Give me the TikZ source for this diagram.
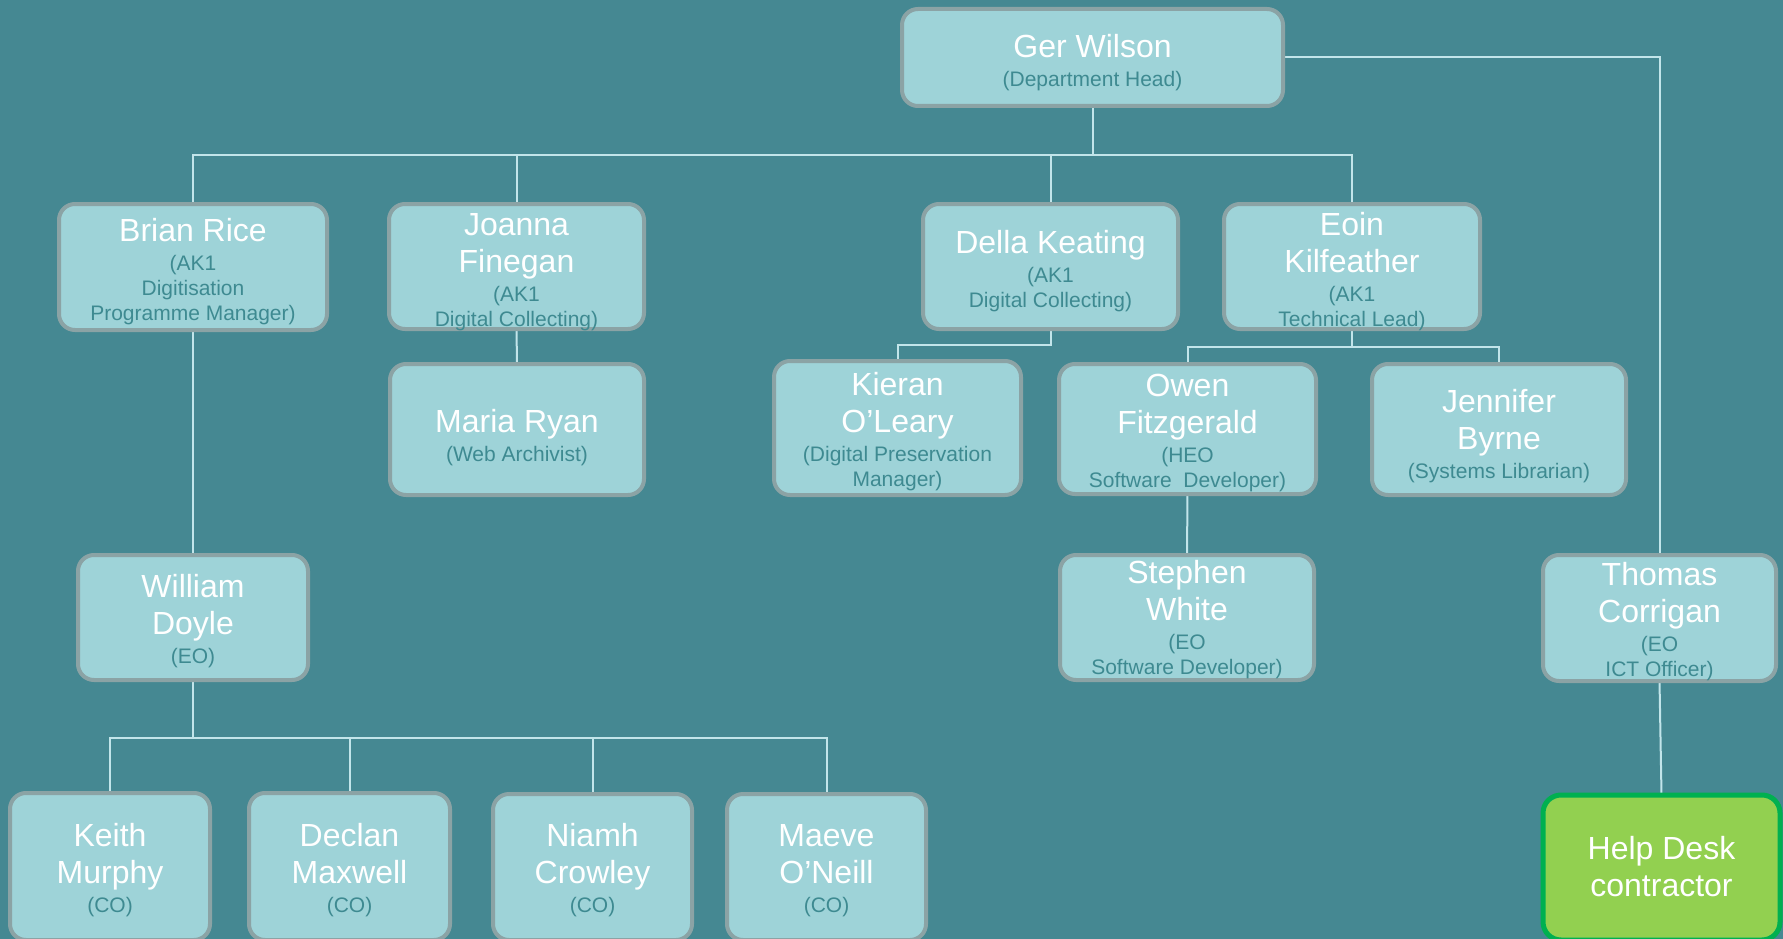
\documentclass[tikz,border=0pt]{standalone}
\usepackage{fontspec}
\setmainfont{Liberation Sans}
\definecolor{bgc}{HTML}{458892}
\definecolor{boxc}{HTML}{9ED3D8}
\definecolor{edgec}{HTML}{8BA3A5}
\definecolor{subc}{HTML}{3E8A91}
\definecolor{linec}{HTML}{C2E5EA}
\definecolor{greenf}{HTML}{92D050}
\definecolor{greene}{HTML}{00B050}
\pgfdeclarelayer{bglayer}
\pgfdeclarelayer{lines}
\pgfsetlayers{bglayer,lines,main}
\newcommand\nm[1]{{\fontsize{32}{37}\selectfont\color{white}\rule[-12pt]{0pt}{37pt}#1}}
\newcommand\sbt[1]{{\fontsize{21}{25}\selectfont\color{subc}\rule[-8pt]{0pt}{25pt}#1}}
% #1 style, #2 name, #3 x1, #4 y1, #5 x2, #6 y2, #7 text shift down, #8 text
\newcommand\mkbox[8][box]{%
  \pgfmathsetmacro\bw{#5-#3-4}\pgfmathsetmacro\bh{#6-#4-4}%
  \pgfmathsetmacro\bx{(#3+#5)/2}\pgfmathsetmacro\by{(#4+#6)/2}%
  \node[#1, minimum width=\bw pt, minimum height=\bh pt] (#2) at (\bx,\by) {};
  \node[txt] (#2t) at ([yshift=-#7pt]#2.center) {#8};}
\tikzset{
  box/.style={draw=edgec, line width=4pt, fill=boxc, rounded corners=16pt, inner sep=0pt, outer sep=0pt},
  greenbox/.style={draw=greene, line width=5pt, fill=greenf, rounded corners=18pt, inner sep=0pt, outer sep=0pt},
  txt/.style={align=center, inner sep=0pt, font=\offinterlineskip},
  conn/.style={draw=linec, line width=2pt}
}
\begin{document}
\begin{tikzpicture}[x=1pt, y=-1pt]
\useasboundingbox (0,0) rectangle (1783,939);
\begin{pgfonlayer}{bglayer}
\fill[bgc] (0,0) rectangle (1783,939);
\end{pgfonlayer}
% boxes
\mkbox{ger}{900}{7}{1285}{108}{6}{\nm{Ger Wilson}\\\sbt{(Department Head)}}
\mkbox{brian}{57}{202}{329}{332}{5}{\nm{Brian Rice}\\\sbt{(AK1}\\\sbt{Digitisation}\\\sbt{Programme Manager)}}
\mkbox{joanna}{387}{202}{646}{331}{6}{\nm{Joanna}\\\nm{Finegan}\\\sbt{(AK1}\\\sbt{Digital Collecting)}}
\mkbox{della}{921}{202}{1180}{331}{5}{\nm{Della Keating}\\\sbt{(AK1}\\\sbt{Digital Collecting)}}
\mkbox{eoin}{1222}{202}{1482}{331}{6}{\nm{Eoin}\\\nm{Kilfeather}\\\sbt{(AK1}\\\sbt{Technical Lead)}}
\mkbox{maria}{388}{362}{646}{497}{8.5}{\nm{Maria Ryan}\\\sbt{(Web Archivist)}}
\mkbox{kieran}{772}{359}{1023}{497}{4}{\nm{Kieran}\\\nm{O’Leary}\\\sbt{(Digital Preservation}\\\sbt{Manager)}}
\mkbox{owen}{1057}{362}{1318}{496}{4}{\nm{Owen}\\\nm{Fitzgerald}\\\sbt{(HEO}\\\sbt{Software\ \ Developer)}}
\mkbox{jennifer}{1370}{362}{1628}{497}{7.5}{\nm{Jennifer}\\\nm{Byrne}\\\sbt{(Systems Librarian)}}
\mkbox{william}{76}{553}{310}{682}{4}{\nm{William}\\\nm{Doyle}\\\sbt{(EO)}}
\mkbox{stephen}{1058}{553}{1316}{682}{3}{\nm{Stephen}\\\nm{White}\\\sbt{(EO}\\\sbt{Software Developer)}}
\mkbox{thomas}{1541}{553}{1778}{683}{4}{\nm{Thomas}\\\nm{Corrigan}\\\sbt{(EO}\\\sbt{ICT Officer)}}
\mkbox{keith}{8}{791}{212}{942}{4}{\nm{Keith}\\\nm{Murphy}\\\sbt{(CO)}}
\mkbox{declan}{247}{791}{452}{942}{4}{\nm{Declan}\\\nm{Maxwell}\\\sbt{(CO)}}
\mkbox{niamh}{491}{792}{694}{942}{4}{\nm{Niamh}\\\nm{Crowley}\\\sbt{(CO)}}
\mkbox{maeve}{725}{792}{928}{942}{4}{\nm{Maeve}\\\nm{O’Neill}\\\sbt{(CO)}}
\mkbox[greenbox]{help}{1541}{793}{1782}{942}{4}{\nm{Help Desk}\\\nm{contractor}}
% connectors
\begin{pgfonlayer}{lines}
\coordinate (bus0) at (0,155);
\coordinate (bus1) at (0,345);
\coordinate (bus2) at (0,347);
\coordinate (bus3) at (0,738);
\draw[conn] (ger.south) -- (ger.south |- bus0);
\draw[conn] (brian.north) |- (eoin.north |- bus0) -- (eoin.north);
\draw[conn] (joanna.north) -- (joanna.north |- bus0);
\draw[conn] (della.north) -- (della.north |- bus0);
\draw[conn] (ger.east) -| (thomas.north);
\draw[conn] (brian.south) -- (william.north);
\draw[conn] (joanna.south) -- (maria.north);
\draw[conn] (della.south) |- (kieran.north |- bus1) -- (kieran.north);
\draw[conn] (eoin.south) -- (eoin.south |- bus2);
\draw[conn] (owen.north) |- (jennifer.north |- bus2) -- (jennifer.north);
\draw[conn] (owen.south) -- (stephen.north);
\draw[conn] (thomas.south) -- (help.north);
\draw[conn] (william.south) -- (william.south |- bus3);
\draw[conn] (keith.north) |- (maeve.north |- bus3) -- (maeve.north);
\draw[conn] (declan.north) -- (declan.north |- bus3);
\draw[conn] (niamh.north) -- (niamh.north |- bus3);
\end{pgfonlayer}
\end{tikzpicture}
\end{document}
